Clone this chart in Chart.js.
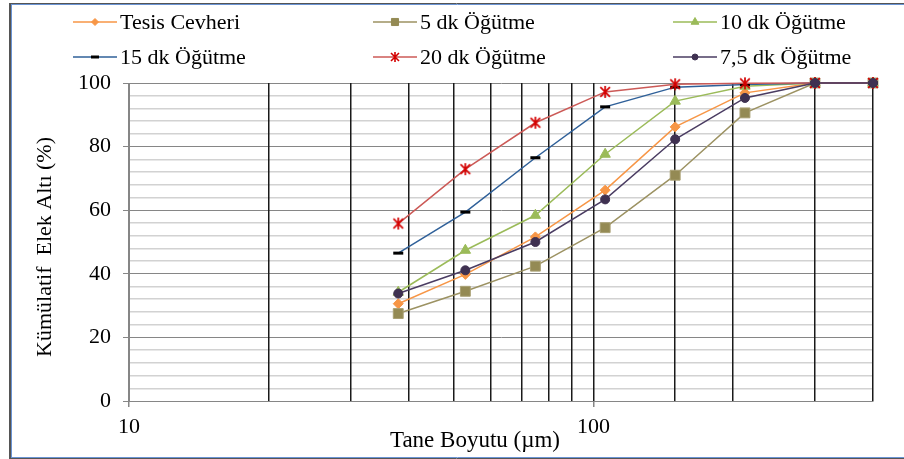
<!DOCTYPE html>
<html lang="tr">
<head>
  <meta charset="utf-8">
  <title>Kümülatif Elek Altı</title>
  <script src="https://cdn.jsdelivr.net/npm/chart.js@4"></script>
  <style>
html, body { margin: 0; padding: 0; background: #fff; }
#wrap { position: relative; width: 904px; height: 459px; }
  </style>
</head>
<body>
  <div id="wrap">
    <canvas id="psd-chart"></canvas>
  </div>
  <script type="text/javascript">
// sieve sizes (µm) and cumulative undersize (%)
const sizes = [38, 53, 75, 106, 150, 212, 300, 400];
const tesis = [30.6, 39.8, 51.6, 66.3, 86.2, 96.9, 100, 100];
const dk5   = [27.5, 34.5, 42.4, 54.5, 71.0, 90.6, 100, 100];
const dk10  = [34.2, 47.4, 58.4, 77.6, 94.3, 99.0, 100, 100];
const dk15  = [46.5, 59.4, 76.5, 92.5, 98.7, 99.5, 100, 100];
const dk20  = [55.8, 72.9, 87.5, 97.2, 99.6, 99.9, 100, 100];
const dk75  = [33.8, 41.1, 50.0, 63.4, 82.3, 95.3, 100, 100];

const names = ['Tesis Cevheri', '5 dk Öğütme', '10 dk Öğütme', '15 dk Öğütme', '20 dk Öğütme', '7,5 dk Öğütme'];
const xLabels = [10, 100];
const xTitle = 'Tane Boyutu (µm)';
const yTitle = 'Kümülatif  Elek Altı (%)';

const FONT = "'Liberation Serif', 'Times New Roman', serif";

// red asterisk marker (x with a vertical bar), like the Excel one
function makeStar(size, color, lw) {
  const c = document.createElement('canvas');
  c.width = size; c.height = size;
  const g = c.getContext('2d');
  const m = size / 2, r = size / 2 - 1;
  g.strokeStyle = color;
  g.lineWidth = lw;
  g.beginPath();
  g.moveTo(m - r * 0.8, m - r * 0.8); g.lineTo(m + r * 0.8, m + r * 0.8);
  g.moveTo(m + r * 0.8, m - r * 0.8); g.lineTo(m - r * 0.8, m + r * 0.8);
  g.moveTo(m, m - r); g.lineTo(m, m + r);
  g.stroke();
  return c;
}

const series = [tesis, dk5, dk10, dk15, dk20, dk75];
const lineColors = ['#F79646', '#9C9262', '#9BBB59', '#2F6099', '#CC5A57', '#4A3C62'];
const markColors = ['#F79646', '#948A54', '#9BBB59', '#000000', '#D40000', '#3F3151'];
const markStyles = ['rectRot', 'rect', 'triangle', 'line', makeStar(14, '#D40000', 1.7), 'circle'];
const markRadius = [5, 7, 6, 5, 7, 4.5];
const legendStyles = ['rectRot', 'rect', 'triangle', 'line', makeStar(12, '#D40000', 1.6), 'circle'];
const legendRadius = [3.5, 5, 4.5, 4, 5, 3];

const datasets = series.map((vals, i) => ({
  label: names[i],
  data: vals.map((v, j) => ({ x: sizes[j], y: v })),
  borderColor: lineColors[i],
  borderWidth: 1.5,
  backgroundColor: markColors[i],
  pointStyle: markStyles[i],
  pointRadius: markRadius[i],
  pointBackgroundColor: markColors[i],
  pointBorderColor: i === 1 ? '#A9A074' : markColors[i],
  pointBorderWidth: i === 3 ? 3 : 1,
  tension: 0,
  clip: false,
  order: series.length - i
}));

// legend laid out in fixed columns like the original, plus axis titles and frame
const decorPlugin = {
  id: 'decor',
  afterDraw(chart) {
    const ctx = chart.ctx;
    const area = chart.chartArea;
    ctx.save();
    const cols = [73, 373, 673];
    const rows = [22, 57];
    ctx.font = '22px ' + FONT;
    ctx.textBaseline = 'middle';
    ctx.textAlign = 'left';
    names.forEach((name, i) => {
      const x = cols[i % 3], y = rows[Math.floor(i / 3)];
      ctx.strokeStyle = lineColors[i];
      ctx.lineWidth = 1.5;
      ctx.beginPath();
      ctx.moveTo(x, y); ctx.lineTo(x + 44, y);
      ctx.stroke();
      ctx.fillStyle = markColors[i];
      ctx.strokeStyle = markColors[i];
      ctx.lineWidth = i === 3 ? 3 : 1;
      Chart.helpers.drawPoint(ctx, {
        pointStyle: legendStyles[i], radius: legendRadius[i], rotation: 0, borderWidth: ctx.lineWidth
      }, x + 22, y);
      ctx.fillStyle = '#000';
      ctx.fillText(name, x + 47, y + 1);
    });

    // axis titles
    ctx.fillStyle = '#000';
    ctx.textAlign = 'center';
    ctx.font = '23px ' + FONT;
    ctx.fillText(xTitle, area.left + (area.right - area.left) * 0.465, 441);
    ctx.font = '22px ' + FONT;
    ctx.translate(45, (area.top + area.bottom) / 2 + 5);
    ctx.rotate(-Math.PI / 2);
    ctx.fillText(yTitle, 0, 0);
    ctx.restore();

    // chart frame
    ctx.save();
    ctx.lineWidth = 1;
    ctx.strokeStyle = '#555';
    ctx.beginPath(); ctx.moveTo(9, 3.5); ctx.lineTo(904, 3.5); ctx.stroke();
    ctx.beginPath(); ctx.moveTo(9, 458.5); ctx.lineTo(904, 458.5); ctx.stroke();
    ctx.lineWidth = 2;
    ctx.beginPath(); ctx.moveTo(10, 3); ctx.lineTo(10, 459); ctx.stroke();
    ctx.lineWidth = 1;
    ctx.strokeStyle = '#6A94D4';
    ctx.beginPath(); ctx.moveTo(11, 4.5); ctx.lineTo(904, 4.5); ctx.stroke();
    ctx.beginPath(); ctx.moveTo(11, 457.5); ctx.lineTo(904, 457.5); ctx.stroke();
    ctx.beginPath(); ctx.moveTo(11.5, 4); ctx.lineTo(11.5, 458); ctx.stroke();
    ctx.restore();
  }
};

const config = {
  type: 'line',
  data: { datasets: datasets },
  options: {
    responsive: true,
    maintainAspectRatio: false,
    animation: false,
    layout: { padding: { top: 83, right: 31, left: 0, bottom: 0 } },
    scales: {
      x: {
        type: 'logarithmic',
        min: 10,
        max: 400,
        afterFit: (s) => { s.height = 58; },
        border: { color: '#868686', width: 1 },
        grid: {
          z: -1,
          color: (c) => (c.tick && c.tick.value === 10) ? '#868686' : '#1a1a1a',
          lineWidth: 1.5,
          tickLength: 6,
          tickColor: (c) => (c.tick && xLabels.includes(c.tick.value)) ? '#868686' : 'rgba(0,0,0,0)'
        },
        ticks: {
          autoSkip: false,
          maxRotation: 0,
          padding: 7,
          color: '#000',
          font: { family: FONT, size: 22 },
          callback: (v) => xLabels.includes(v) ? String(v) : ''
        }
      },
      y: {
        min: 0,
        max: 100,
        afterFit: (s) => { s.width = 129; },
        border: { color: '#868686', width: 1 },
        grid: {
          z: -2,
          color: (c) => (c.tick && c.tick.value % 20 === 0) ? '#868686' : '#D2D2D2',
          lineWidth: (c) => (c.tick && c.tick.value % 20 === 0) ? 1 : 1.5,
          tickLength: 6,
          tickColor: (c) => (c.tick && c.tick.value % 20 === 0) ? '#868686' : 'rgba(0,0,0,0)'
        },
        ticks: {
          stepSize: 4,
          autoSkip: false,
          padding: 12,
          color: '#000',
          font: { family: FONT, size: 22 },
          callback: (v) => v % 20 === 0 ? String(v) : ''
        }
      }
    },
    plugins: {
      legend: { display: false },
      tooltip: { enabled: false },
      title: { display: false }
    }
  },
  plugins: [decorPlugin]
};

const psdChart = new Chart(document.getElementById('psd-chart'), config);
</script>
</body>
</html>
